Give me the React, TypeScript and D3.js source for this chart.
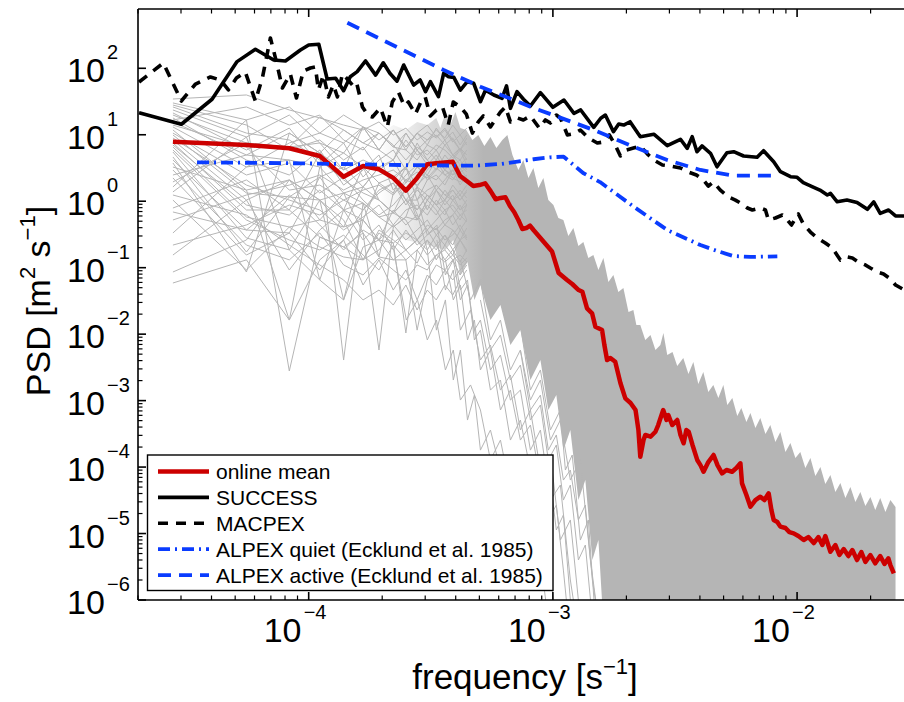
import React from "react";
import * as d3 from "d3";

type P = [number, number];

const FONT = "'Liberation Sans', Arial, Helvetica, sans-serif";

// frequencies [s^-1] of the lowest harmonics of the individual flight-leg spectra
const GRAY_FREQ = [2.78e-5, 5.56e-5, 8.33e-5, 1.11e-4, 1.39e-4, 1.67e-4, 1.94e-4, 2.22e-4, 2.5e-4, 2.78e-4, 3.06e-4, 3.33e-4, 3.61e-4, 3.89e-4, 4.17e-4, 4.44e-4];

// individual spectra (PSD, m^2 s^-1) at GRAY_FREQ
const GRAY_SPECTRA: number[][] = [
  [34.5, 39.7, 23.6, 17.9, 14.0, 11.8, 15.6, 9.92, 12.6, 8.34, 11.0, 8.94, 11.8, 7.78, 9.92, 7.01],
  [30.1, 16.7, 26.2, 10.6, 19.8, 13.1, 8.34, 11.8, 6.54, 10.6, 14.0, 9.25, 12.6, 8.34, 5.9, 8.94],
  [23.6, 9.25, 19.8, 7.52, 5.31, 13.1, 10.6, 6.54, 5.9, 4.17, 7.01, 5.9, 8.34, 4.96, 4.17, 5.9],
  [19.8, 7.52, 6.54, 18.5, 11.8, 7.52, 5.9, 4.17, 10.6, 5.9, 3.51, 4.96, 2.95, 4.17, 5.9, 3.51],
  [15.6, 4.96, 10.6, 5.31, 2.95, 4.17, 3.27, 2.31, 3.27, 1.64, 2.95, 4.17, 2.48, 2.09, 3.16, 2.24],
  [13.1, 3.27, 4.17, 3.27, 5.31, 3.27, 1.88, 1.33, 1.88, 3.27, 2.48, 1.47, 2.09, 2.95, 1.75, 2.48],
  [11.8, 1.47, 2.09, 1.04, 1.33, 1.64, 1.04, 0.665, 1.04, 1.04, 1.47, 1.75, 1.24, 1.04, 1.47, 1.12],
  [9.92, 1.33, 1.16, 2.31, 0.738, 0.94, 0.579, 0.409, 0.579, 0.522, 0.877, 0.62, 1.04, 0.738, 0.522, 0.877],
  [8.34, 1.04, 2.09, 0.522, 0.409, 0.522, 0.261, 0.235, 0.333, 0.261, 0.439, 0.369, 0.522, 0.62, 0.369, 0.522],
  [7.52, 0.738, 0.738, 0.289, 0.205, 0.333, 0.145, 0.131, 0.185, 0.117, 0.261, 0.185, 0.31, 0.219, 0.369, 0.261],
  [6.54, 0.579, 0.409, 0.205, 0.145, 0.131, 0.185, 0.369, 0.185, 0.261, 0.155, 0.219, 0.131, 0.185, 0.122, 0.185],
  [5.5, 0.28, 0.185, 0.0653, 0.0327, 0.205, 0.261, 0.439, 0.738, 0.877, 0.62, 1.04, 0.738, 0.877, 0.62, 0.738],
  [4.63, 0.172, 1.16, 1.04, 0.409, 1.64, 3.27, 2.09, 3.27, 5.9, 4.17, 2.95, 4.96, 3.51, 4.17, 2.95],
  [3.76, 0.0861, 10.6, 5.31, 11.8, 7.52, 10.6, 6.54, 10.6, 5.9, 8.34, 9.92, 7.01, 8.94, 5.9, 7.78],
  [3.27, 1.47, 0.0163, 3.27, 1.33, 0.94, 0.579, 0.665, 1.04, 1.64, 1.24, 0.877, 1.47, 1.04, 1.24, 0.877],
  [2.48, 4.96, 4.17, 0.0653, 0.738, 0.522, 1.88, 2.31, 1.04, 0.522, 1.04, 0.738, 0.439, 0.62, 0.877, 0.522],
  [1.95, 7.52, 6.54, 7.52, 2.95, 13.1, 5.9, 11.8, 5.9, 10.6, 7.01, 12.6, 8.34, 11.0, 7.01, 9.92],
  [1.64, 16.7, 0.00279, 0.289, 0.205, 0.131, 0.333, 0.235, 0.0104, 0.185, 0.261, 0.131, 0.219, 0.155, 0.261, 0.185],
  [1.38, 9.25, 0.185, 1.04, 0.0327, 0.522, 0.261, 0.131, 0.131, 0.0115, 0.0653, 0.11, 0.0923, 0.131, 0.0776, 0.11],
  [1.04, 0.0923, 0.409, 0.522, 1.33, 0.333, 0.00577, 0.409, 0.579, 1.64, 0.738, 1.47, 1.04, 1.75, 1.24, 1.75],
  [0.79, 2.09, 0.738, 5.31, 0.00408, 0.94, 0.145, 1.33, 3.27, 1.04, 2.09, 2.48, 1.75, 2.95, 2.09, 2.48],
  [0.689, 0.369, 0.333, 2.31, 3.27, 1.64, 3.27, 4.17, 1.88, 3.27, 2.48, 4.17, 2.95, 2.48, 3.51, 2.75],
  [0.333, 3.27, 7.52, 10.6, 7.52, 13.1, 5.9, 11.8, 6.54, 10.6, 8.34, 11.8, 8.94, 14.0, 9.92, 12.6],
  [0.155, 1.04, 0.0923, 0.369, 0.738, 3.27, 1.04, 0.665, 1.64, 0.522, 1.04, 1.47, 0.877, 1.24, 0.738, 1.04],
  [0.0861, 0.261, 2.09, 1.04, 0.522, 0.131, 0.369, 0.261, 0.185, 0.261, 0.369, 0.219, 0.31, 0.185, 0.261, 0.172],
  [0.0588, 0.131, 0.0163, 0.131, 0.261, 0.738, 1.47, 1.88, 1.04, 0.738, 1.24, 0.877, 1.04, 1.47, 1.04, 1.47],
  [16.7, 26.2, 14.0, 19.8, 8.34, 5.9, 10.6, 7.01, 4.17, 6.54, 4.96, 7.01, 5.9, 4.47, 6.32, 4.96],
  [26.2, 10.6, 8.34, 4.17, 2.09, 1.33, 1.04, 0.665, 0.522, 0.261, 0.185, 0.31, 0.219, 0.369, 0.261, 0.31],
  [28.0, 14.0, 5.9, 8.34, 4.17, 6.54, 2.95, 4.17, 8.34, 4.96, 5.9, 4.17, 7.01, 4.96, 3.51, 4.47],
  [21.3, 5.9, 12.6, 3.51, 7.52, 2.31, 4.17, 5.9, 2.95, 7.52, 4.17, 5.9, 3.51, 4.96, 6.32, 4.17],
  [17.9, 4.17, 2.48, 5.9, 1.75, 2.95, 4.96, 1.47, 2.48, 3.51, 2.09, 2.95, 4.17, 2.48, 2.95, 3.51],
  [14.0, 6.54, 1.47, 1.75, 1.04, 0.738, 1.33, 1.88, 0.877, 1.47, 1.04, 1.75, 1.24, 1.47, 1.04, 1.38],
  [10.6, 2.48, 3.76, 1.33, 2.31, 1.04, 0.62, 0.877, 1.47, 0.738, 1.24, 0.877, 0.62, 1.04, 0.738, 0.877],
  [8.94, 1.75, 1.04, 0.738, 0.369, 0.579, 0.877, 0.439, 0.261, 0.369, 0.522, 0.31, 0.439, 0.369, 0.261, 0.395],
  [7.01, 0.877, 0.62, 1.47, 0.738, 0.261, 0.439, 0.185, 0.369, 0.219, 0.31, 0.395, 0.261, 0.31, 0.439, 0.28],
  [5.9, 0.522, 0.261, 0.185, 0.31, 0.155, 0.0923, 0.219, 0.131, 0.185, 0.11, 0.155, 0.185, 0.131, 0.155, 0.122],
  [4.17, 0.369, 1.24, 0.439, 0.185, 0.369, 0.261, 0.738, 0.439, 0.62, 0.369, 0.522, 0.738, 0.439, 0.62, 0.487],
  [2.95, 0.219, 0.131, 0.333, 0.11, 0.0776, 0.14, 0.0923, 0.0653, 0.11, 0.0923, 0.155, 0.122, 0.155, 0.11, 0.14],
  [2.24, 0.155, 0.333, 0.0923, 0.261, 0.0549, 0.131, 0.0461, 0.0923, 0.0327, 0.0776, 0.0549, 0.0923, 0.0653, 0.0923, 0.122],
  [1.24, 0.62, 0.219, 0.11, 0.0653, 0.0327, 0.0461, 0.0274, 0.0549, 0.0231, 0.0461, 0.0327, 0.0549, 0.0388, 0.0653, 0.0923],
  [0.522, 1.24, 1.75, 2.48, 1.47, 2.09, 2.48, 2.95, 2.09, 2.75, 2.24, 3.16, 2.48, 2.95, 2.75, 3.16],
  [0.219, 0.439, 0.877, 0.62, 1.04, 1.47, 1.75, 1.24, 2.09, 1.75, 2.48, 2.09, 2.95, 2.24, 1.95, 2.48],
];

// spectra that drop far below the bulk between 2e-4 and 1.6e-3 s^-1
const GRAY_DEEP: P[][] = [
  [[2.51e-4, 1.47], [2.79e-4, 0.62], [3.06e-4, 0.185], [3.335e-4, 0.0115], [3.63e-4, 0.0327], [3.91e-4, 0.00204], [4.18e-4, 0.00577], [4.47e-4, 5.1e-4], [4.77e-4, 1.21e-3], [5.05e-4, 1.8e-4], [5.55e-4, 3.61e-4], [6.1e-4, 9.03e-5], [6.7e-4, 1.52e-4], [7.36e-4, 2.26e-5], [8.09e-4, 4.51e-5], [8.89e-4, 4.0e-6], [9.58e-4, 5.0e-7]],
  [[2.23e-4, 0.185], [2.51e-4, 0.0163], [2.79e-4, 0.0327], [3.06e-4, 0.00817], [3.335e-4, 0.0163], [3.63e-4, 0.00289], [3.91e-4, 0.00577], [4.18e-4, 0.00102], [4.6e-4, 0.00172], [5.05e-4, 7.22e-4], [5.55e-4, 1.28e-4], [6.1e-4, 2.55e-4], [6.83e-4, 3.19e-5], [7.72e-4, 6.38e-5], [8.48e-4, 7.98e-6], [9.32e-4, 1.6e-5], [1.024e-3, 5.0e-7]],
  [[3.35e-4, 0.261], [3.63e-4, 0.0461], [3.91e-4, 0.0923], [4.18e-4, 0.0115], [4.6e-4, 0.0231], [5.05e-4, 0.00408], [5.55e-4, 0.00686], [6.1e-4, 1.44e-3], [6.7e-4, 2.43e-3], [7.36e-4, 3.61e-4], [8.09e-4, 7.22e-4], [8.89e-4, 9.03e-5], [9.77e-4, 1.52e-4], [1.073e-3, 7.98e-6], [1.179e-3, 1.6e-5], [1.296e-3, 5.0e-7]],
  [[4.18e-4, 0.131], [4.6e-4, 0.0327], [5.05e-4, 0.0653], [5.55e-4, 0.00817], [6.1e-4, 0.0163], [6.7e-4, 0.00289], [7.36e-4, 0.00577], [8.09e-4, 0.00102], [8.89e-4, 0.00204], [9.77e-4, 2.55e-4], [1.073e-3, 5.1e-4], [1.179e-3, 6.38e-5], [1.296e-3, 1.28e-4], [1.424e-3, 4.0e-6], [1.536e-3, 5.0e-7]],
  [[6.1e-4, 0.0327], [6.7e-4, 0.00817], [7.36e-4, 0.0137], [8.09e-4, 1.44e-3], [8.89e-4, 2.89e-3], [9.77e-4, 3.61e-4], [1.073e-3, 7.22e-4], [1.125e-3, 9.03e-5], [1.2e-3, 1.52e-4], [1.296e-3, 7.98e-6], [1.397e-3, 1.6e-5], [1.493e-3, 5.0e-7]],
  [[2.79e-4, 1.04], [3.06e-4, 0.31], [3.35e-4, 0.439], [3.63e-4, 0.0776], [3.91e-4, 0.131], [4.18e-4, 0.0327], [4.47e-4, 0.0549], [4.77e-4, 0.0115], [5.05e-4, 0.0163], [5.55e-4, 0.00289], [6.1e-4, 0.00485], [6.7e-4, 0.00102], [7.36e-4, 1.44e-3], [8.09e-4, 1.8e-4], [8.89e-4, 3.61e-4], [9.77e-4, 3.19e-5], [1.073e-3, 5.37e-5], [1.179e-3, 2.0e-6], [1.248e-3, 5.0e-7]],
  [[3.63e-4, 0.131], [3.91e-4, 0.0327], [4.18e-4, 0.0549], [4.47e-4, 0.00817], [4.77e-4, 0.0163], [5.05e-4, 0.00289], [5.55e-4, 0.00577], [6.1e-4, 7.22e-4], [6.7e-4, 1.44e-3], [7.36e-4, 2.55e-4], [8.09e-4, 4.29e-4], [8.89e-4, 6.38e-5], [9.58e-4, 1.07e-4], [1.033e-3, 1.13e-5], [1.104e-3, 1.9e-5], [1.179e-3, 1.0e-6], [1.236e-3, 5.0e-7]],
  [[5.05e-4, 0.0327], [5.55e-4, 0.00577], [6.1e-4, 0.0097], [6.7e-4, 0.00204], [7.36e-4, 3.43e-3], [8.09e-4, 5.1e-4], [8.89e-4, 8.59e-4], [9.58e-4, 1.28e-4], [1.033e-3, 2.15e-4], [1.104e-3, 3.19e-5], [1.179e-3, 5.37e-5], [1.272e-3, 4.0e-6], [1.358e-3, 6.72e-6], [1.451e-3, 5.0e-7]],
  [[7.36e-4, 0.00577], [8.09e-4, 7.22e-4], [8.89e-4, 1.21e-3], [9.58e-4, 1.8e-4], [1.033e-3, 3.04e-4], [1.104e-3, 6.38e-5], [1.179e-3, 9.03e-5], [1.272e-3, 1.6e-5], [1.358e-3, 2.68e-5], [1.451e-3, 2.0e-6], [1.536e-3, 5.0e-7]],
  [[3.91e-4, 0.185], [4.18e-4, 0.0461], [4.47e-4, 0.0653], [4.77e-4, 0.00817], [5.05e-4, 0.0115], [5.55e-4, 1.44e-3], [6.1e-4, 2.04e-3], [6.7e-4, 2.55e-4], [7.36e-4, 5.1e-4], [8.09e-4, 9.03e-5], [8.89e-4, 1.52e-4], [9.58e-4, 1.6e-5], [1.033e-3, 2.68e-5], [1.104e-3, 2.82e-6], [1.157e-3, 5.0e-7]],
];

// upper edge of the dense bundle of spectra (spiky), and its ragged lower edge
const GRAY_BAND_UPPER: P[] = [
  [1.94e-4, 9.92], [2.22e-4, 14.0], [2.5e-4, 11.8], [2.78e-4, 15.6], [3.06e-4, 14.0], [3.33e-4, 17.9],
  [3.46e-4, 12.6], [3.63e-4, 21.3], [3.8e-4, 14.0], [3.99e-4, 22.0], [4.18e-4, 12.6], [4.42e-4, 11.8], [4.68e-4, 8.34], [4.95e-4, 9.92],
  [5.24e-4, 6.77], [5.55e-4, 9.25], [5.87e-4, 6.32], [6.21e-4, 8.34], [6.51e-4, 9.92], [6.83e-4, 4.96], [7.22e-4, 2.95], [7.57e-4, 4.17], [7.94e-4, 2.24], [8.32e-4, 3.16],
  [8.72e-4, 1.58], [9.14e-4, 2.24], [9.58e-4, 1.04], [1.005e-3, 0.877], [1.053e-3, 0.559], [1.104e-3, 0.522], [1.157e-3, 0.3], [1.213e-3, 0.395], [1.272e-3, 0.212], [1.333e-3, 0.243],
  [1.397e-3, 0.14], [1.465e-3, 0.155], [1.536e-3, 0.0923], [1.61e-3, 0.14], [1.688e-3, 0.0609], [1.769e-3, 0.0776], [1.854e-3, 0.0431], [1.944e-3, 0.0494], [2.04e-3, 0.0215], [2.136e-3, 0.0231],
  [2.197e-3, 0.0137], [2.28e-3, 0.0137], [2.39e-3, 0.00817], [2.51e-3, 0.0097], [2.63e-3, 0.00577], [2.755e-3, 0.00686], [2.835e-3, 0.0104], [2.94e-3, 0.00485], [3.09e-3, 0.00538], [3.23e-3, 0.00332],
  [3.42e-3, 0.00437], [3.59e-3, 0.00251], [3.76e-3, 0.00381], [3.94e-3, 0.00178], [4.13e-3, 0.00269], [4.33e-3, 0.00135], [4.54e-3, 0.00172], [4.76e-3, 0.00109], [4.99e-3, 0.00172], [5.18e-3, 8.59e-4],
  [5.43e-3, 0.00109], [5.69e-3, 5.86e-4], [5.91e-3, 7.74e-4], [6.2e-3, 4.76e-4], [6.44e-3, 6.51e-4], [6.75e-3, 3.87e-4], [7.07e-3, 5.47e-4], [7.42e-3, 3.14e-4], [7.77e-3, 4.29e-4], [8.15e-3, 2.38e-4],
  [8.54e-3, 3.37e-4], [8.96e-3, 1.68e-4], [9.39e-3, 2.3e-4], [9.84e-3, 1.37e-4], [1.031e-2, 1.68e-4], [1.081e-2, 9.67e-5], [1.134e-2, 1.37e-4], [1.188e-2, 7.33e-5], [1.246e-2, 1.0e-4], [1.305e-2, 5.56e-5],
  [1.369e-2, 7.6e-5], [1.435e-2, 4.21e-5], [1.504e-2, 5.75e-5], [1.577e-2, 3.42e-5], [1.653e-2, 5.01e-5], [1.733e-2, 2.98e-5], [1.816e-2, 4.21e-5], [1.904e-2, 2.59e-5], [1.996e-2, 3.54e-5], [2.09e-2, 2.26e-5],
  [2.19e-2, 3.42e-5], [2.3e-2, 2.11e-5], [2.41e-2, 3.19e-5], [2.53e-2, 2.5e-5],
];
const GRAY_BAND_LOWER: P[] = [
  [1.94e-4, 0.369], [2.5e-4, 0.261], [3.06e-4, 0.219], [3.63e-4, 0.185], [3.91e-4, 0.261], [4.18e-4, 0.0776], [4.47e-4, 0.122], [4.77e-4, 0.0327], [5.05e-4, 0.0549], [5.55e-4, 0.0163], [6.1e-4, 0.0274],
  [6.7e-4, 0.00686], [7.36e-4, 0.0115], [8.09e-4, 0.00204], [8.89e-4, 0.00408], [9.58e-4, 7.22e-4], [1.033e-3, 1.21e-3], [1.104e-3, 1.8e-4], [1.179e-3, 3.61e-4],
  [1.272e-3, 3.19e-5], [1.358e-3, 6.38e-5], [1.451e-3, 4.0e-6], [1.536e-3, 7.98e-6], [1.625e-3, 2.5e-7], [2.53e-2, 2.5e-7],
];

// online mean spectrum
const ONLINE_MEAN: P[] = [
  [2.78e-5, 7.86], [5.56e-5, 7.01], [8.33e-5, 6.26], [1.11e-4, 4.79], [1.39e-4, 2.34], [1.67e-4, 3.39], [1.94e-4, 3.02], [2.22e-4, 2.24], [2.5e-4, 1.44], [2.78e-4, 2.24],
  [3.06e-4, 3.6], [3.33e-4, 3.72], [3.61e-4, 3.82], [3.89e-4, 3.93], [4.17e-4, 2.4], [4.44e-4, 2.01], [4.72e-4, 1.69], [5.0e-4, 1.75], [5.28e-4, 1.86], [5.56e-4, 1.42],
  [5.83e-4, 1.07], [6.11e-4, 1.12], [6.39e-4, 1.15], [6.67e-4, 0.847], [6.94e-4, 0.689], [7.22e-4, 0.522], [7.5e-4, 0.382], [7.78e-4, 0.395], [8.06e-4, 0.431], [8.33e-4, 0.369],
  [8.89e-4, 0.28], [9.92e-4, 0.175], [1.056e-3, 0.0832], [1.143e-3, 0.0653], [1.2e-3, 0.0568], [1.275e-3, 0.0461], [1.32e-3, 0.0435], [1.38e-3, 0.0245], [1.447e-3, 0.0206], [1.493e-3, 0.0129],
  [1.59e-3, 0.01154], [1.625e-3, 0.00686], [1.667e-3, 0.00408], [1.72e-3, 0.00437], [1.8e-3, 0.00385], [1.89e-3, 0.00184], [1.98e-3, 0.00108], [2.08e-3, 9.2e-4], [2.18e-3, 7.22e-4], [2.24e-3, 3.61e-4],
  [2.28e-3, 1.43e-4], [2.35e-3, 2.55e-4], [2.39e-3, 3.04e-4], [2.51e-3, 2.86e-4], [2.63e-3, 3.4e-4], [2.7e-3, 4.29e-4], [2.83e-3, 7.22e-4], [2.92e-3, 5.11e-4], [2.97e-3, 6.07e-4], [3.08e-3, 4.29e-4],
  [3.23e-3, 5.11e-4], [3.33e-3, 3.04e-4], [3.43e-3, 2.28e-4], [3.52e-3, 3.61e-4], [3.6e-3, 3.4e-4], [3.73e-3, 2.15e-4], [3.9e-3, 1.28e-4], [4.02e-3, 1.07e-4], [4.14e-3, 8.51e-5], [4.33e-3, 1.19e-4],
  [4.55e-3, 1.52e-4], [4.72e-3, 1.07e-4], [4.93e-3, 8.05e-5], [5.14e-3, 9.03e-5], [5.42e-3, 8.51e-5], [5.64e-3, 9.67e-5], [5.86e-3, 1.14e-4], [5.95e-3, 5.69e-5], [6.2e-3, 3.8e-5], [6.44e-3, 2.53e-5],
  [6.75e-3, 3.19e-5], [7.07e-3, 3.58e-5], [7.35e-3, 3.19e-5], [7.65e-3, 4.03e-5], [7.85e-3, 2.26e-5], [8.02e-3, 1.6e-5], [8.3e-3, 1.49e-5], [8.54e-3, 1.27e-5], [8.96e-3, 1.21e-5], [9.3e-3, 1.05e-5],
  [9.68e-3, 1.007e-5], [1.012e-2, 9.17e-6], [1.064e-2, 7.99e-6], [1.112e-2, 8.86e-6], [1.17e-2, 7.2e-6], [1.222e-2, 8.86e-6], [1.269e-2, 6.72e-6], [1.305e-2, 9.17e-6], [1.369e-2, 5.32e-6], [1.435e-2, 6.72e-6],
  [1.49e-2, 4.75e-6], [1.552e-2, 5.85e-6], [1.622e-2, 4.59e-6], [1.684e-2, 5.65e-6], [1.76e-2, 3.99e-6], [1.833e-2, 5.27e-6], [1.904e-2, 3.73e-6], [1.996e-2, 4.75e-6], [2.09e-2, 3.56e-6], [2.19e-2, 4.59e-6],
  [2.28e-2, 3.48e-6], [2.365e-2, 4.23e-6], [2.41e-2, 3.36e-6], [2.49e-2, 2.52e-6],
];

const SUCCESS: P[] = [
  [2.02e-5, 21.5], [3.01e-5, 14.4], [4.02e-5, 34.2], [5.09e-5, 126], [6.05e-5, 193], [7.19e-5, 133], [8.03e-5, 129], [9.25e-5, 188], [1.0e-4, 224], [1.1e-4, 230],
  [1.19e-4, 69], [1.29e-4, 70.8], [1.39e-4, 46], [1.48e-4, 74.8], [1.58e-4, 89], [1.71e-4, 129], [1.88e-4, 79], [2.02e-4, 121], [2.15e-4, 84], [2.3e-4, 64],
  [2.45e-4, 112], [2.69e-4, 56], [2.86e-4, 66.7], [3.01e-4, 44.5], [3.15e-4, 62.8], [3.4e-4, 37.4], [3.57e-4, 84], [3.74e-4, 74.8], [3.93e-4, 73], [4.18e-4, 47],
  [4.46e-4, 62.8], [4.74e-4, 59.4], [5.05e-4, 31.4], [5.3e-4, 47], [5.73e-4, 39.6], [6.19e-4, 35.4], [6.46e-4, 54.2], [6.7e-4, 25], [7.13e-4, 44.5], [7.58e-4, 34.2],
  [8.09e-4, 27.1], [8.89e-4, 43], [1.0e-3, 25.9], [1.11e-3, 33.3], [1.22e-3, 21], [1.3e-3, 23.6], [1.47e-3, 12.9], [1.57e-3, 17.7], [1.64e-3, 19.8], [1.77e-3, 11.1],
  [1.86e-3, 14.5], [1.95e-3, 14.0], [2.07e-3, 15.7], [2.28e-3, 9.35], [2.59e-3, 10.2], [2.94e-3, 6.84], [3.33e-3, 8.55], [3.55e-3, 6.25], [3.72e-3, 9.35], [3.89e-3, 5.56],
  [4.08e-3, 6.78], [4.42e-3, 5.26], [4.7e-3, 3.3], [5.16e-3, 5.37], [5.5e-3, 5.56], [6.04e-3, 4.79], [6.86e-3, 4.58], [7.29e-3, 5.75], [8.02e-3, 3.93], [8.55e-3, 2.78],
  [9.4e-3, 2.34], [1.0e-2, 2.29], [1.06e-2, 1.9], [1.17e-2, 1.62], [1.24e-2, 1.47], [1.33e-2, 1.24], [1.37e-2, 1.31], [1.46e-2, 0.98], [1.6e-2, 1.04], [1.76e-2, 0.96],
  [1.94e-2, 0.755], [2.06e-2, 0.98], [2.19e-2, 0.658], [2.37e-2, 0.738], [2.53e-2, 0.6], [2.75e-2, 0.6],
];

const MACPEX: P[] = [
  [2.02e-5, 62.2], [2.54e-5, 120], [3.01e-5, 32.2], [3.44e-5, 58.0], [3.96e-5, 74.0], [4.35e-5, 66.7], [4.69e-5, 47.2], [5.06e-5, 71.4], [5.5e-5, 88.0], [6.05e-5, 32.2],
  [6.46e-5, 71.4], [6.97e-5, 286], [7.38e-5, 124], [7.8e-5, 50.5], [8.41e-5, 82.1], [8.91e-5, 35.7], [9.51e-5, 91.1], [1.016e-4, 101], [1.065e-4, 105], [1.096e-4, 47.2],
  [1.149e-4, 79.3], [1.204e-4, 37.0], [1.262e-4, 56.1], [1.311e-4, 37.0], [1.374e-4, 82.1], [1.427e-4, 71.4], [1.51e-4, 56.1], [1.568e-4, 62.2], [1.66e-4, 26.2], [1.756e-4, 19.2],
  [1.823e-4, 18.5], [1.966e-4, 25.3], [2.1e-4, 13.1], [2.2e-4, 31.1], [2.33e-4, 44.0], [2.465e-4, 27.1], [2.56e-4, 31.1], [2.735e-4, 20.5], [2.867e-4, 30.1], [3.0e-4, 37.0],
  [3.15e-4, 19.2], [3.335e-4, 23.6], [3.53e-4, 26.2], [3.73e-4, 14.0], [3.91e-4, 31.1], [4.18e-4, 26.2], [4.42e-4, 20.5], [4.68e-4, 10.6], [4.95e-4, 15.6], [5.19e-4, 19.2],
  [5.55e-4, 13.1], [5.76e-4, 16.1], [6.1e-4, 22.0], [6.39e-4, 26.2], [6.7e-4, 15.6], [7.15e-4, 17.9], [7.57e-4, 16.7], [8.09e-4, 19.2], [8.8e-4, 12.6], [9.32e-4, 16.7],
  [9.77e-4, 15.0], [1.033e-3, 19.8], [1.073e-3, 17.9], [1.147e-3, 9.92], [1.213e-3, 10.3], [1.296e-3, 11.8], [1.397e-3, 8.94], [1.52e-3, 7.52], [1.61e-3, 7.78], [1.703e-3, 9.92],
  [1.8e-3, 7.01], [1.89e-3, 4.79], [2.0e-3, 5.9], [2.136e-3, 6.32], [2.28e-3, 6.77], [2.46e-3, 4.96], [2.63e-3, 4.03], [2.81e-3, 3.51], [3.03e-3, 3.39], [3.33e-3, 3.16],
  [3.59e-3, 2.75], [3.87e-3, 2.48], [4.13e-3, 2.09], [4.33e-3, 1.69], [4.54e-3, 1.95], [4.85e-3, 1.47], [5.23e-3, 1.16], [5.59e-3, 1.04], [5.86e-3, 0.94], [6.26e-3, 0.79],
  [6.56e-3, 0.738], [7.07e-3, 0.79], [7.42e-3, 0.738], [7.63e-3, 0.522], [8.15e-3, 0.559], [8.71e-3, 0.62], [9.13e-3, 0.522], [9.48e-3, 0.439], [1.012e-2, 0.642], [1.061e-2, 0.454],
  [1.134e-2, 0.344], [1.211e-2, 0.28], [1.305e-2, 0.235], [1.394e-2, 0.198], [1.504e-2, 0.13], [1.607e-2, 0.145], [1.684e-2, 0.14], [1.782e-2, 0.122], [1.904e-2, 0.11], [1.996e-2, 0.0989],
  [2.13e-2, 0.0861], [2.26e-2, 0.0803], [2.41e-2, 0.0676], [2.53e-2, 0.0549], [2.75e-2, 0.0461],
];

const ALPEX_QUIET: P[] = [
  [3.49e-5, 3.85], [9.25e-5, 3.72], [2.38e-4, 3.51], [4.72e-4, 3.42], [6.1e-4, 3.63], [7.16e-4, 3.94], [8.34e-4, 4.28], [9.77e-4, 4.58], [1.107e-3, 4.68],
  [1.33e-3, 2.66], [1.56e-3, 1.94], [2.14e-3, 0.83], [2.94e-3, 0.369], [4.02e-3, 0.219], [4.71e-3, 0.178], [5.48e-3, 0.15], [6.43e-3, 0.145], [8.3e-3, 0.148],
];

const ALPEX_ACTIVE: P[] = [
  [1.44e-4, 485], [3.57e-4, 94.3], [5.05e-4, 52.9], [8.09e-4, 26.4], [1.47e-3, 11.8], [2.14e-3, 6.61], [2.94e-3, 4.17], [4.02e-3, 2.95], [5.5e-3, 2.42], [8.28e-3, 2.42],
];

const X_TICK_EXPONENTS = [-4, -3, -2];
const Y_TICK_EXPONENTS = [-6, -5, -4, -3, -2, -1, 0, 1, 2];
const LEGEND_LABELS = ["online mean", "SUCCESS", "MACPEX", "ALPEX quiet (Ecklund et al. 1985)", "ALPEX active (Ecklund et al. 1985)"];

const RED = "#cc0000";
const BLUE = "#0a3cff";
const GRAY = "#b5b5b5";

const LEGEND_STYLES = [
  { color: RED, width: 4.5, dash: undefined as string | undefined },
  { color: "#000", width: 3.6, dash: undefined },
  { color: "#000", width: 3.6, dash: "10,8" },
  { color: BLUE, width: 3.8, dash: "12,5,2,5" },
  { color: BLUE, width: 3.8, dash: "13,8" },
];

const sup = (e: number) => (e < 0 ? "\u2212" + Math.abs(e) : String(e));

export default function App() {
  const W = 904;
  const H = 702;
  const L = 138;
  const R = 913.6;
  const T = 9;
  const B = 600;
  const x = d3.scaleLog().domain([2e-5, 3e-2]).range([L, R]);
  const y = d3.scaleLog().domain([1e-6, 780]).range([B, T]);
  const line = d3.line<P>().x((d) => x(d[0])).y((d) => y(d[1]));

  const band = line([...GRAY_BAND_UPPER, ...GRAY_BAND_LOWER.slice().reverse()]) + "Z";
  const fadeStart = x(GRAY_BAND_UPPER[0][0]);
  const fadeEnd = x(5.2e-4);

  const xMinor: number[] = [];
  for (let e = -5; e <= -2; e++) for (let k = 2; k <= 9; k++) {
    const v = k * Math.pow(10, e);
    if (v >= 2e-5 && v <= 3e-2) xMinor.push(v);
  }
  const yMinor: number[] = [];
  for (let e = -6; e <= -1; e++) for (let k = 2; k <= 9; k++) yMinor.push(k * Math.pow(10, e));

  const legendX = 147.5, legendY = 455, legendW = 405.5, legendH = 135.5;

  return (
    <svg width={W} height={H} style={{ position: "absolute", left: 0, top: 0, background: "#fff" }} fontFamily={FONT}>
      <defs>
        <clipPath id="plotclip">
          <rect x={L} y={T} width={R - L} height={B - T} />
        </clipPath>
        <linearGradient id="bandfade" gradientUnits="userSpaceOnUse" x1={fadeStart} y1={0} x2={fadeEnd} y2={0}>
          <stop offset="0" stopColor={GRAY} stopOpacity={0} />
          <stop offset="0.55" stopColor={GRAY} stopOpacity={0.55} />
          <stop offset="1" stopColor={GRAY} stopOpacity={1} />
        </linearGradient>
      </defs>
      <rect x={0} y={0} width={W} height={H} fill="#fff" />
      <g clipPath="url(#plotclip)" fill="none" strokeLinejoin="round">
        <path d={band} fill="url(#bandfade)" stroke="none" />
        {GRAY_SPECTRA.map((s, i) => (
          <path key={"g" + i} d={line(s.map((v, j) => [GRAY_FREQ[j], v] as P)) || ""} stroke={GRAY} strokeWidth={1} />
        ))}
        {GRAY_DEEP.map((s, i) => (
          <path key={"d" + i} d={line(s) || ""} stroke={GRAY} strokeWidth={1} />
        ))}
        <path d={line(ONLINE_MEAN) || ""} stroke={RED} strokeWidth={4.5} />
        <path d={line(SUCCESS) || ""} stroke="#000" strokeWidth={3.6} />
        <path d={line(MACPEX) || ""} stroke="#000" strokeWidth={3.6} strokeDasharray="10,8" />
        <path d={line(ALPEX_QUIET) || ""} stroke={BLUE} strokeWidth={3.8} strokeDasharray="12,5,2,5" />
        <path d={line(ALPEX_ACTIVE) || ""} stroke={BLUE} strokeWidth={3.8} strokeDasharray="13,8" />
      </g>

      {/* axes box */}
      <g stroke="#000" strokeWidth={1.6} fill="none">
        <line x1={L} y1={T} x2={R} y2={T} />
        <line x1={L} y1={B} x2={R} y2={B} />
        <line x1={L} y1={T} x2={L} y2={B} />
        <line x1={R} y1={T} x2={R} y2={B} />
        {X_TICK_EXPONENTS.map((e) => {
          const px = x(Math.pow(10, e));
          return (
            <g key={"xt" + e}>
              <line x1={px} y1={B} x2={px} y2={B - 8} />
              <line x1={px} y1={T} x2={px} y2={T + 8} />
            </g>
          );
        })}
        {xMinor.map((v, i) => {
          const px = x(v);
          return (
            <g key={"xm" + i} strokeWidth={1.2}>
              <line x1={px} y1={B} x2={px} y2={B - 4.5} />
              <line x1={px} y1={T} x2={px} y2={T + 4.5} />
            </g>
          );
        })}
        {Y_TICK_EXPONENTS.map((e) => {
          const py = y(Math.pow(10, e));
          return <line key={"yt" + e} x1={L} y1={py} x2={L + 8} y2={py} />;
        })}
        {yMinor.map((v, i) => {
          const py = y(v);
          return <line key={"ym" + i} x1={L} y1={py} x2={L + 4.5} y2={py} strokeWidth={1.2} />;
        })}
      </g>

      {/* y tick labels */}
      {Y_TICK_EXPONENTS.map((e) => {
        const py = y(Math.pow(10, e));
        return (
          <g key={"yl" + e} fill="#000">
            <text x={67} y={py + 14} fontSize={34}>10</text>
            <text x={107} y={py - 9} fontSize={20}>{sup(e)}</text>
          </g>
        );
      })}
      {/* x tick labels */}
      {X_TICK_EXPONENTS.map((e) => {
        const px = x(Math.pow(10, e));
        return (
          <g key={"xl" + e} fill="#000">
            <text x={px - 45} y={642} fontSize={34}>10</text>
            <text x={px - 5} y={619} fontSize={20}>{sup(e)}</text>
          </g>
        );
      })}

      {/* axis labels */}
      <text x={525} y={689} fontSize={35} textAnchor="middle" fill="#000">
        frequency [s<tspan fontSize={22} dy={-15}>{"\u2212"}1</tspan><tspan dy={15}>]</tspan>
      </text>
      <text transform="translate(50,301) rotate(-90)" fontSize={34} textAnchor="middle" fill="#000">
        PSD [m<tspan fontSize={22} dy={-15}>2</tspan><tspan dy={15}> s</tspan><tspan fontSize={22} dy={-15}>{"\u2212"}1</tspan><tspan dy={15}>]</tspan>
      </text>

      {/* legend */}
      <rect x={legendX} y={legendY} width={legendW} height={legendH} fill="#fff" stroke="#000" strokeWidth={1.4} />
      {LEGEND_LABELS.map((lab, i) => {
        const ry = 471.5 + i * 25.9;
        const st = LEGEND_STYLES[i];
        return (
          <g key={"lg" + i}>
            <line x1={158} y1={ry} x2={209} y2={ry} stroke={st.color} strokeWidth={st.width} strokeDasharray={st.dash} />
            <text x={216} y={ry + 7.5} fontSize={21} fill="#000">{lab}</text>
          </g>
        );
      })}
    </svg>
  );
}
